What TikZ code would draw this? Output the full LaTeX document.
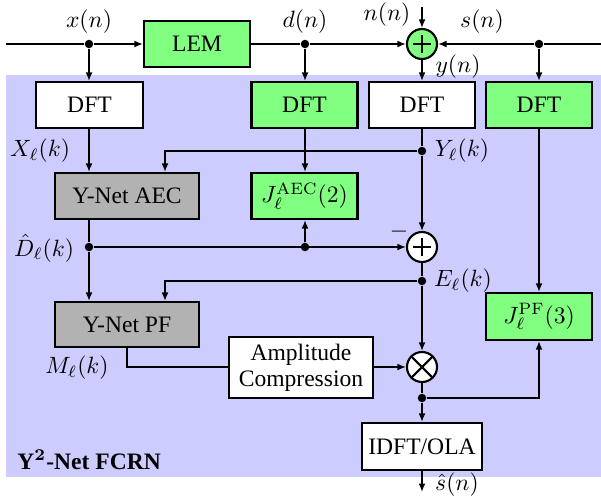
\documentclass[tikz,border=0pt]{standalone}
\usepackage[no-math]{fontspec}
\setmainfont{Liberation Serif}
\usetikzlibrary{arrows.meta,calc}
\begin{document}
\begin{tikzpicture}[x=0.4242pt,y=-0.4242pt,
  blk/.style={draw,line width=0.9pt,minimum width=#1*0.4242pt,inner sep=0pt},
  blk/.default=106,
  grn/.style={fill=green!50},
  wht/.style={fill=white},
  gry/.style={fill=gray!60},
  sumc/.style={draw,line width=0.9pt,circle,minimum size=30*0.4242pt,inner sep=0pt},
  ln/.style={line width=0.65pt},
  arr/.style={line width=0.65pt,-{Latex[length=3.6pt,width=2.9pt]}},
  sgn/.style={line width=0.9pt},
  dot/.style={circle,fill,inner sep=0pt,minimum size=3.6pt},
  lbl/.style={inner sep=0pt}]
\useasboundingbox (0,0) rectangle (601,497);
\fill[blue!20] (6,75) rectangle (601,477);
% nodes
\node[blk=106,grn,minimum height=46*0.4242pt] (lem) at (197,44) {LEM};
\node[sumc,grn] (s1) at (422,44) {};
\node[blk=107,wht,minimum height=46*0.4242pt] (dftx) at (89.5,105) {DFT};
\node[blk=106,grn,minimum height=46*0.4242pt] (dftd) at (304.5,105) {DFT};
\node[blk=106,wht,minimum height=46*0.4242pt] (dfty) at (422,105) {DFT};
\node[blk=106,grn,minimum height=46*0.4242pt] (dfts) at (539,105) {DFT};
\node[blk=144,gry,minimum height=46*0.4242pt] (aec) at (127,196) {Y-Net AEC};
\node[blk=106,grn,minimum height=46*0.4242pt] (jaec) at (304.5,196) {$J_\ell^{\mathrm{AEC}}(2)$};
\node[sumc,wht] (s2) at (422,247) {};
\node[blk=144,gry,minimum height=45*0.4242pt] (pf) at (127,324.5) {Y-Net PF};
\node[blk=106,grn,minimum height=47*0.4242pt] (jpf) at (539,316.5) {$J_\ell^{\mathrm{PF}}(3)$};
\node[blk=144,wht,minimum height=61*0.4242pt,align=center] (amp) at (301,367.5) {Amplitude\\[-1pt]Compression};
\node[sumc,wht] (m) at (422,367) {};
\node[blk=120,wht,minimum height=47*0.4242pt] (idft) at (422,446.5) {IDFT/OLA};
% plus / times signs
\foreach \c in {s1,s2}{
  \draw[sgn] ($(\c)+(-9,0)$) -- ($(\c)+(9,0)$);
  \draw[sgn] ($(\c)+(0,-9)$) -- ($(\c)+(0,9)$);
}
\draw[sgn] (m.45) -- (m.225);
\draw[sgn] (m.135) -- (m.315);
% coordinates and dots
\coordinate (lin) at (6,44);
\coordinate (rin) at (601,44);
\coordinate (ntop) at (422,7);
\node[dot] (xd) at (89,44) {};
\node[dot] (dd) at (305,44) {};
\node[dot] (sd) at (539,44) {};
\node[dot] (yd) at (422,151) {};
\coordinate (yc) at (165,151);
\node[dot] (Dd) at (89,247) {};
\node[dot] (jd) at (305,247) {};
\node[dot] (ed) at (422,281) {};
\coordinate (ec) at (165,281);
\coordinate (mc) at (127,367);
\node[dot] (od) at (422,398) {};
\coordinate (oc) at (539,398);
\coordinate (out) at (422,492);
% connectors
\draw[ln] (lin) -- (xd);
\draw[arr] (xd) -- (lem.west);
\draw[ln] (lem.east) -- (dd);
\draw[arr] (dd) -- (s1.west);
\draw[ln] (rin) -- (sd);
\draw[arr] (sd) -- (s1.east);
\draw[arr] (ntop) -- (s1.north);
\draw[arr] (xd) -- (dftx.north -| xd);
\draw[arr] (dd) -- (dftd.north -| dd);
\draw[arr] (s1.south) -- (dfty.north);
\draw[arr] (sd) -- (dfts.north);
\draw[arr] (dftx.south -| xd) -- (aec.north -| xd);
\draw[arr] (dftd.south -| dd) -- (jaec.north -| dd);
\draw[ln] (dfty.south) -- (yd);
\draw[arr] (yd) -- (s2.north);
\draw[arr] (yd) -- (yc) -- (aec.north -| yc);
\draw[ln] (aec.south -| Dd) -- (Dd);
\draw[arr] (Dd) -- (pf.north -| Dd);
\draw[arr] (Dd) -- (s2.west);
\draw[arr] (jd) -- (jaec.south -| jd);
\draw[ln] (s2.south) -- (ed);
\draw[arr] (ed) -- (m.north);
\draw[arr] (ed) -- (ec) -- (pf.north -| ec);
\draw[ln] (pf.south -| mc) -- (mc) -- (amp.west |- mc);
\draw[arr] (amp.east |- m) -- (m.west);
\draw[ln] (m.south) -- (od);
\draw[arr] (od) -- (idft.north);
\draw[arr] (od) -- (oc) -- (jpf.south);
\draw[arr] (dfts.south) -- (jpf.north);
\draw[arr] (idft.south) -- (out);
% labels
\node[lbl] (lx) at (89,22) {$x(n)$};
\node[lbl] (ld) at (305,22) {$d(n)$};
\node[lbl] (ln) at (387,15) {$n(n)$};
\node[lbl] (ls) at (482,22) {$s(n)$};
\node[lbl] (ly) at (458,67) {$y(n)$};
\node[lbl] (lX) at (40,151) {$X_\ell(k)$};
\node[lbl] (lY) at (462,151) {$Y_\ell(k)$};
\node[lbl] (lD) at (44,248) {$\hat{D}_\ell(k)$};
\node[lbl] (lE) at (463,281) {$E_\ell(k)$};
\node[lbl] (lM) at (77,368) {$M_\ell(k)$};
\node[lbl] (lsh) at (457,485) {$\hat{s}(n)$};
\node[lbl] (lminus) at (399,232) {$-$};
\node[lbl,anchor=west] (title) at (17,460) {\textbf{Y$^{\mathbf{2}}$-Net FCRN}};
\end{tikzpicture}
\end{document}
